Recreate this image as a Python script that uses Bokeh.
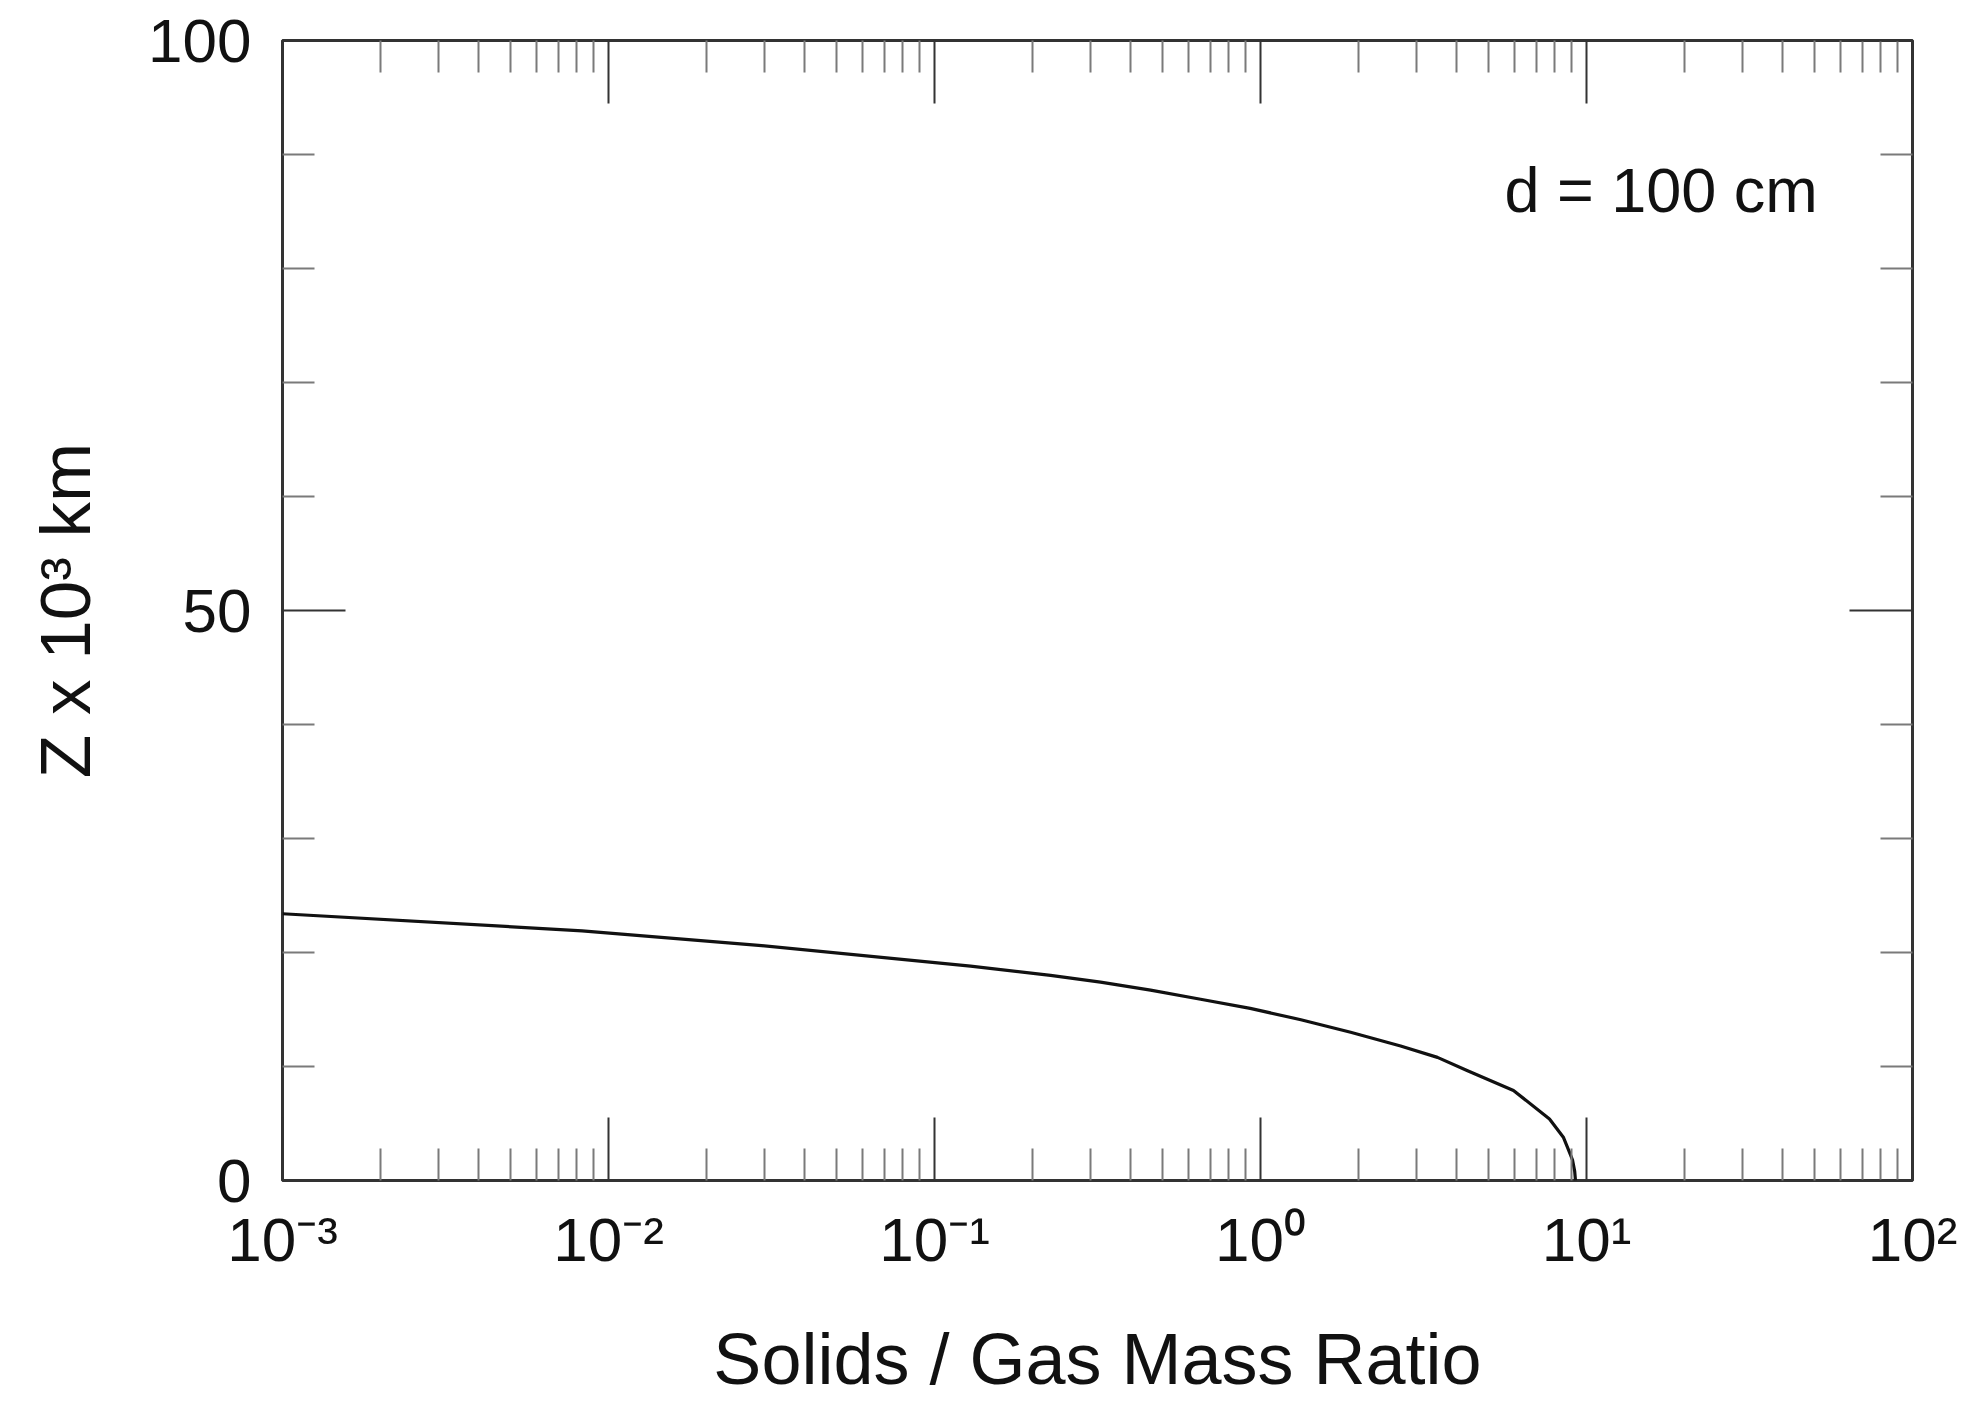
from bokeh.plotting import figure
from bokeh.models import FixedTicker, LogAxis, LinearAxis, Label, Range1d
from bokeh.embed import file_html
from bokeh.resources import INLINE

# ---- data ----
ratio = [0.001, 0.0083, 0.0295, 0.129, 0.227, 0.323, 0.46, 0.655, 0.93, 1.33,
         1.89, 2.69, 3.49, 4.30, 5.97, 7.7, 8.49, 8.8, 9.06, 9.2, 9.25]
z_km = [23.4, 21.9, 20.6, 18.8, 18.0, 17.4, 16.7, 15.9, 15.1, 14.1,
        13.0, 11.8, 10.8, 9.65, 7.9, 5.4, 3.8, 2.7, 1.8, 0.8, 0.0]

x_major = [1e-3, 1e-2, 1e-1, 1e0, 1e1, 1e2]
x_tick_labels = ["10\u207b\u00b3", "10\u207b\u00b2", "10\u207b\u00b9",
                 "10\u2070", "10\u00b9", "10\u00b2"]
x_minor = [m * 10.0 ** e for e in range(-3, 2) for m in range(2, 10)]
y_major = [0, 50, 100]
y_minor = [10, 20, 30, 40, 60, 70, 80, 90]
annotation_text = "d = 100 cm"
annotation_pos = (5.6, 86.9)

FONT = "Liberation Sans"
TXT = "#111111"

p = figure(width=1964, height=1401, x_axis_type="log",
           x_range=Range1d(1e-3, 1e2), y_range=Range1d(0, 100),
           output_backend="svg", toolbar_location=None,
           min_border_left=282, min_border_right=52,
           min_border_top=40, min_border_bottom=221)
p.background_fill_color = "white"
p.border_fill_color = "white"
p.outline_line_color = "#333333"
p.outline_line_width = 3
p.grid.visible = False


def style_axis(ax, major, minor, show_labels):
    ax.ticker = FixedTicker(ticks=major, minor_ticks=minor)
    ax.axis_line_color = None
    ax.major_tick_in = 63
    ax.major_tick_out = 0
    ax.minor_tick_in = 32
    ax.minor_tick_out = 0
    ax.major_tick_line_color = "#333333"
    ax.major_tick_line_width = 2
    ax.minor_tick_line_color = "#7a7a7a"
    ax.minor_tick_line_width = 2
    if show_labels:
        ax.major_label_text_font = FONT
        ax.major_label_text_font_size = "62px"
        ax.major_label_text_color = TXT
    else:
        ax.major_label_text_font_size = "1px"
        ax.major_label_text_color = None
        ax.major_label_standoff = 0


# left axis
yl = p.yaxis[0]
style_axis(yl, y_major, y_minor, True)
yl.major_label_standoff = 31
yl.axis_label = "Z x 10\u00b3 km"
yl.axis_label_text_font = FONT
yl.axis_label_text_font_size = "71px"
yl.axis_label_text_font_style = "normal"
yl.axis_label_text_color = TXT
yl.axis_label_standoff = 40

# bottom axis
xb = p.xaxis[0]
style_axis(xb, x_major, x_minor, True)
xb.major_label_overrides = {t: s for t, s in zip(x_major, x_tick_labels)}
xb.major_label_standoff = 24
xb.axis_label = "Solids / Gas Mass Ratio"
xb.axis_label_text_font = FONT
xb.axis_label_text_font_size = "72px"
xb.axis_label_text_font_style = "normal"
xb.axis_label_text_color = TXT
xb.axis_label_standoff = 42

# top and right axes (ticks only)
xt = LogAxis()
style_axis(xt, x_major, x_minor, False)
p.add_layout(xt, "above")
yr = LinearAxis()
style_axis(yr, y_major, y_minor, False)
p.add_layout(yr, "right")

# curve
p.line(ratio, z_km, line_color="#111111", line_width=3.2, line_join="round")

p.add_layout(Label(x=annotation_pos[0], y=annotation_pos[1], text=annotation_text,
                   text_font=FONT, text_font_size="63px", text_color=TXT,
                   text_align="left", text_baseline="alphabetic"))

open("out.html", "w").write(file_html(p, INLINE))
